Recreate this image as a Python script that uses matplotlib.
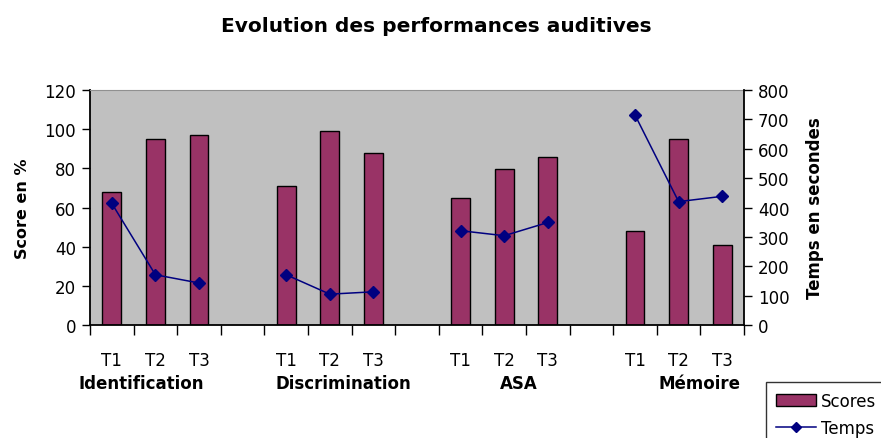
import matplotlib
matplotlib.use("Agg")
import matplotlib.pyplot as plt
import numpy as np
from matplotlib.patches import Patch
from matplotlib.lines import Line2D
import matplotlib.transforms as mtransforms

plt.rcParams['font.family'] = ['DejaVu Sans']

title = "Evolution des performances auditives"
groups = ["Identification", "Discrimination", "ASA", "Mémoire"]
sessions = ["T1", "T2", "T3"]
scores = [[68, 95, 97], [71, 99, 88], [65, 79.5, 86], [48, 95, 41]]
temps = [[414, 171, 143], [171, 105, 113], [321, 304, 349], [715, 420, 438]]
left_label = "Score en %"
right_label = "Temps en secondes"
legend_labels = ["Scores", "Temps"]

bar_color = "#993366"
line_color = "#000080"
bg = "#C0C0C0"

# build slot layout: 3 sessions + 1 empty slot per group (last group has no trailing gap)
vals_bar, vals_line, tick_lbls = [], [], []
for gi, g in enumerate(groups):
    for si, s in enumerate(sessions):
        vals_bar.append(scores[gi][si])
        vals_line.append(temps[gi][si])
        tick_lbls.append(s)
    if gi < len(groups) - 1:
        vals_bar.append(np.nan)
        vals_line.append(np.nan)
        tick_lbls.append("")
n = len(vals_bar)
xs = np.arange(n)

fig = plt.figure(figsize=(8.81, 4.39), dpi=100)
ax = fig.add_axes([90/881, 1-326/439, (744-90)/881, (326-91)/439])
ax.set_facecolor(bg)
ax.bar(xs, vals_bar, width=0.43, color=bar_color, edgecolor="black", linewidth=1, zorder=2)
ax.set_xlim(-0.5, n - 0.5)
ax.set_ylim(0, 120)
ax.set_yticks(np.arange(0, 121, 20))
ax.tick_params(axis='y', direction='out', length=6, width=1, labelsize=12, pad=4)
ax.set_xticks(np.arange(-0.5, n, 1.0))
ax.set_xticklabels([])
ax.tick_params(axis='x', which='major', direction='out', length=7, width=1)
ax.set_xticks(xs, minor=True)
ax.set_xticklabels(tick_lbls, minor=True, fontsize=12)
ax.tick_params(axis='x', which='minor', length=0, pad=19)
for sp in ['left', 'bottom']:
    ax.spines[sp].set_color('black')
    ax.spines[sp].set_linewidth(1.3)
ax.spines['top'].set_color('#909090')
ax.spines['right'].set_visible(False)
ax.set_ylabel(left_label, fontsize=11.5, fontweight='bold', labelpad=10)

ax2 = ax.twinx()
ax2.plot(xs, vals_line, color=line_color, marker='D', markersize=6, linewidth=1.1, zorder=3)
ax2.set_ylim(0, 800)
ax2.set_yticks(np.arange(0, 801, 100))
ax2.tick_params(axis='y', direction='out', length=6, width=1, labelsize=12, pad=4)
ax2.spines['right'].set_color('black')
ax2.spines['right'].set_linewidth(1.3)
for sp in ['left', 'top', 'bottom']:
    ax2.spines[sp].set_visible(False)
ax2.set_ylabel(right_label, fontsize=12, fontweight='bold', labelpad=12)

# group labels
trans = mtransforms.blended_transform_factory(ax.transData, ax.transAxes)
group_offsets = [0.67, 1.3, 1.34, 1.49]
for gi, g in enumerate(groups):
    cx = gi * 4 + group_offsets[gi]
    ax.text(cx, -0.245, g, transform=trans, ha='center', va='center',
            fontsize=12, fontweight='bold')

fig.suptitle(title, x=436/881, y=1-26/439, va='center', fontsize=14.5, fontweight='bold')

handles = [Patch(facecolor=bar_color, edgecolor='black', linewidth=1),
           Line2D([0], [0], color=line_color, marker='D', markersize=5, linewidth=1.1)]
leg = fig.legend(handles, legend_labels, loc='upper left',
                 bbox_to_anchor=(766/881, 1-383/439), fontsize=12, frameon=True,
                 fancybox=False, edgecolor='black', borderpad=0.6, handlelength=2.4,
                 handletextpad=0.3, labelspacing=0.55, borderaxespad=0)
leg.get_frame().set_linewidth(1)

fig.savefig("out.png", dpi=100)
